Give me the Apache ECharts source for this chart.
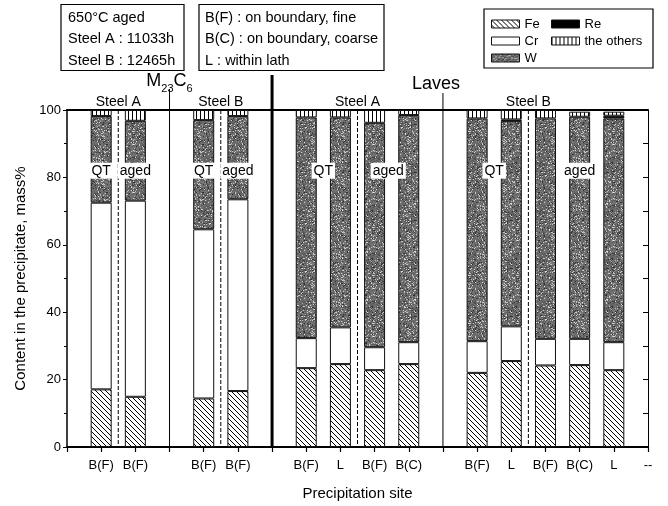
<!DOCTYPE html>
<html>
<head>
<meta charset="utf-8">
<script src="https://cdn.jsdelivr.net/npm/echarts@6/dist/echarts.min.js"></script>
<style>
  html, body { margin: 0; padding: 0; background: #fff; }
  #chart { width: 668px; height: 506px; }
</style>
</head>
<body>
<div id="chart"></div>
<script>
// ---- data -------------------------------------------------------------
// slot of each bar on the site axis (slots 0..17)
const sitePos = [1, 2, 4, 5, 7, 8, 9, 10, 12, 13, 14, 15, 16];
// tick labels of the site axis, one per slot 0..17
const siteLabels = ['', 'B(F)', 'B(F)', '', 'B(F)', 'B(F)', '', 'B(F)', 'L', 'B(F)', 'B(C)', '', 'B(F)', 'L', 'B(F)', 'B(C)', 'L', '--'];

// composition of each precipitate, mass%
const feVals     = [17.1, 14.9, 14.4, 16.6, 23.4, 24.6, 22.8, 24.6, 22.0, 25.5, 24.2, 24.3, 22.8];
const crVals     = [55.4, 58.2, 50.2, 56.9,  8.9, 10.9,  6.8,  6.5,  9.4, 10.3,  7.9,  7.8,  8.3];
const wVals      = [25.7, 23.7, 32.4, 24.7, 65.5, 62.3, 66.6, 67.4, 66.1, 60.9, 65.4, 65.9, 66.4];
const reVals     = [null, null, null, null, null, null, null, null, null,  0.5, null, null,  0.8];
const otherVals  = [ 1.8,  3.2,  3.0,  1.8,  2.2,  2.2,  3.8,  1.5,  2.5,  2.8,  2.5,  1.5,  1.2];

// group captions above the bars and where they are centred on the site axis
const groupNames   = ['Steel A', 'Steel B', 'Steel A', 'Steel B'];
const groupCenters = [1.5, 4.5, 8.5, 13.5];
// heat-treatment captions drawn across the W part of the bars
const stateNames   = ['QT', 'aged', 'QT', 'aged', 'QT', 'aged', 'QT', 'aged'];
const stateCenters = [1, 2, 4, 5, 7.5, 9.4, 12.5, 15];
const stateLevel   = 82;
// dashed separators between QT and aged bars
const dashedAt     = [1.5, 4.5, 8.5, 13.5];

const FONT = '"Liberation Sans", Arial, sans-serif';
const SLOTS = siteLabels.length;

// ---- fill patterns ----------------------------------------------------
function makeCanvas(w, h) {
  const c = document.createElement('canvas');
  c.width = w; c.height = h;
  return c;
}
function feHatch() {           // diagonal "\\" hatching
  const s = 5, c = makeCanvas(s, s), g = c.getContext('2d');
  g.fillStyle = '#fff'; g.fillRect(0, 0, s, s);
  g.strokeStyle = '#000'; g.lineWidth = 1;
  g.beginPath();
  g.moveTo(-1, -1); g.lineTo(s + 1, s + 1);
  g.moveTo(-1, s - 1); g.lineTo(1, s + 1);
  g.moveTo(s - 1, -1); g.lineTo(s + 1, 1);
  g.stroke();
  return c;
}
function verticalStripes() {   // "|||" hatching
  const c = makeCanvas(4, 4), g = c.getContext('2d');
  g.fillStyle = '#fff'; g.fillRect(0, 0, 4, 4);
  g.fillStyle = '#000'; g.fillRect(0, 0, 1, 4);
  return c;
}
function stipple() {           // dark grey speckled screen
  const s = 48, c = makeCanvas(s, s), g = c.getContext('2d');
  const img = g.createImageData(s, s);
  let seed = 20231;
  const next = () => { seed = (seed * 1103515245 + 12345) & 0x7fffffff; return seed / 0x7fffffff; };
  for (let i = 0; i < s * s; i++) {
    const r = next();
    let v;
    if (r < 0.12) v = 175 + Math.floor(next() * 50);
    else if (r < 0.22) v = 45 + Math.floor(next() * 20);
    else v = 85 + Math.floor(next() * 45);
    img.data[i * 4] = v; img.data[i * 4 + 1] = v; img.data[i * 4 + 2] = v; img.data[i * 4 + 3] = 255;
  }
  g.putImageData(img, 0, 0);
  return c;
}

const fills = {
  Fe: { image: feHatch(), repeat: 'repeat' },
  Cr: '#ffffff',
  W: { image: stipple(), repeat: 'repeat' },
  Re: '#000000',
  others: { image: verticalStripes(), repeat: 'repeat' }
};

// spread one value per bar onto the 18 slots of the site axis
function toSlots(values) {
  const out = new Array(SLOTS).fill('-');
  sitePos.forEach((p, i) => { if (values[i] != null) out[p] = values[i]; });
  return out;
}

function stackSeries(name, values, fill) {
  return {
    name: name,
    type: 'bar',
    stack: 'total',
    barWidth: 21,
    xAxisIndex: 0,
    yAxisIndex: 0,
    data: toSlots(values),
    itemStyle: { color: fill, borderColor: '#111', borderWidth: 1 },
    emphasis: { disabled: true },
    silent: true
  };
}

const series = [
  stackSeries('Fe', feVals, fills.Fe),
  stackSeries('Cr', crVals, fills.Cr),
  stackSeries('W', wVals, fills.W),
  stackSeries('Re', reVals, fills.Re),
  stackSeries('the others', otherVals, fills.others)
];

const legendCommon = {
  orient: 'vertical',
  icon: 'rect',
  itemWidth: 28,
  itemHeight: 8,
  itemGap: 3,
  padding: 0,
  selectedMode: false,
  textStyle: { fontSize: 13, color: '#000', fontFamily: FONT, lineHeight: 14 },
  itemStyle: { borderColor: '#111', borderWidth: 1 }
};

const option = {
  animation: false,
  textStyle: { fontFamily: FONT, color: '#000' },
  grid: { left: 67, right: 20, top: 110, bottom: 59 },
  legend: [
    Object.assign({}, legendCommon, { left: 491, top: 17, data: ['Fe', 'Cr', 'W'] }),
    Object.assign({}, legendCommon, { left: 551, top: 17, data: ['Re', 'the others'] })
  ],
  xAxis: [
    {
      type: 'category', boundaryGap: false, position: 'bottom',
      data: siteLabels.map((_, i) => String(i)),
      axisLine: { show: true, onZero: false, lineStyle: { color: '#000', width: 2 } },
      axisTick: { show: true, interval: 0, length: 5, lineStyle: { color: '#000', width: 1.2 } },
      axisLabel: {
        interval: 0, fontSize: 13, color: '#000', margin: 12, fontFamily: FONT,
        formatter: (v, i) => siteLabels[i] || ''
      },
      splitLine: { show: false },
      name: 'Precipitation site', nameLocation: 'middle', nameGap: 39,
      nameTextStyle: { fontSize: 15, color: '#000', fontFamily: FONT }
    },
    {
      // top frame; also a continuous 0..17 scale for placing separators and captions
      type: 'value', min: 0, max: SLOTS - 1, interval: 1, position: 'top',
      axisLine: { show: true, onZero: false, lineStyle: { color: '#000', width: 2 } },
      axisTick: { show: false }, axisLabel: { show: false }, splitLine: { show: false }
    }
  ],
  yAxis: [
    {
      type: 'value', min: 0, max: 100, interval: 20, position: 'left',
      axisLine: { show: true, onZero: false, lineStyle: { color: '#000', width: 1.5 } },
      axisTick: { show: true, length: 4, lineStyle: { color: '#000' } },
      minorTick: { show: true, splitNumber: 2, length: 3, lineStyle: { color: '#000' } },
      axisLabel: { fontSize: 13, color: '#000', margin: 6, fontFamily: FONT },
      splitLine: { show: false },
      name: 'Content in the precipitate, mass%', nameLocation: 'middle', nameGap: 34, nameRotate: 90,
      nameTextStyle: { fontSize: 15, color: '#000', fontFamily: FONT }
    },
    {
      type: 'value', min: 0, max: 100, interval: 20, position: 'right',
      axisLine: { show: true, onZero: false, lineStyle: { color: '#000', width: 1 } },
      axisTick: { show: true, inside: true, length: 5, lineStyle: { color: '#000' } },
      minorTick: { show: true, splitNumber: 2, length: 5, lineStyle: { color: '#000' } },
      axisLabel: { show: false }, splitLine: { show: false }
    }
  ],
  series: series
};

const chart = echarts.init(document.getElementById('chart'), null, { renderer: 'canvas' });
chart.setOption(option);

// ---- annotations placed through the chart's own scales ----------------
const toPx = (x, y) => chart.convertToPixel({ xAxisIndex: 1, yAxisIndex: 0 }, [x, y]);
const yTop = toPx(0, 100)[1];
const yBase = toPx(0, 0)[1];
const graphics = [];

function vline(xVal, top, width, dashed) {
  const x = toPx(xVal, 0)[0];
  graphics.push({
    type: 'line', silent: true, z: 50,
    shape: { x1: x, y1: top, x2: x, y2: yBase },
    style: { stroke: '#000', lineWidth: width, lineDash: dashed ? [4, 2] : null }
  });
}
dashedAt.forEach(x => vline(x, yTop, 1, true));
vline(3, yTop - 21, 1, false);
vline(6, yTop - 35, 3, false);
vline(11, yTop - 17, 1, false);

function text(x, y, str, size, extra) {
  graphics.push({
    type: 'text', silent: true, z: 60, x: x, y: y,
    style: Object.assign({ text: str, font: size + 'px ' + FONT, fill: '#000', align: 'center', verticalAlign: 'middle' }, extra || {})
  });
}
groupNames.forEach((n, i) => text(toPx(groupCenters[i], 0)[0], yTop - 8, n, 14));
stateNames.forEach((n, i) => {
  const p = toPx(stateCenters[i], stateLevel);
  text(p[0], p[1], n, 14, { backgroundColor: '#fff', padding: [1, 2, 1, 2] });
});

// phase titles: M23C6 with lowered subscripts, and Laves
const measureCtx = document.createElement('canvas').getContext('2d');
function textWidth(str, size) {
  measureCtx.font = size + 'px ' + FONT;
  return measureCtx.measureText(str).width;
}
const formulaParts = [['M', false], ['23', true], ['C', false], ['6', true]];
const mainSize = 18, subSize = 11;
const formulaWidth = formulaParts.reduce((s, p) => s + textWidth(p[0], p[1] ? subSize : mainSize), 0);
let fx = toPx(3, 0)[0] - formulaWidth / 2;
const fy = yTop - 29;
formulaParts.forEach(p => {
  const size = p[1] ? subSize : mainSize;
  text(fx, p[1] ? fy + 8 : fy, p[0], size, { align: 'left' });
  fx += textWidth(p[0], size);
});
text(toPx(10.8, 0)[0], yTop - 26, 'Laves', 18);

// info boxes and legend frame
function box(x, y, w, h) {
  graphics.push({ type: 'rect', silent: true, z: 40, shape: { x: x, y: y, width: w, height: h },
    style: { fill: 'none', stroke: '#000', lineWidth: 1.2 } });
}
box(61, 4.5, 123, 66);
box(199, 4.5, 185, 66);
box(484, 9, 169, 59);
function block(x, lines) {
  graphics.push({ type: 'text', silent: true, z: 60, x: x, y: 7.5,
    style: { text: lines.join('\n'), font: '14.5px ' + FONT, fill: '#000', lineHeight: 21.3, align: 'left', verticalAlign: 'top' } });
}
block(68, ['650\u00B0C aged', 'Steel A : 11033h', 'Steel B : 12465h']);
block(205, ['B(F) : on boundary, fine', 'B(C) : on boundary, coarse', 'L : within lath']);

chart.setOption({ graphic: graphics });
</script>
</body>
</html>
